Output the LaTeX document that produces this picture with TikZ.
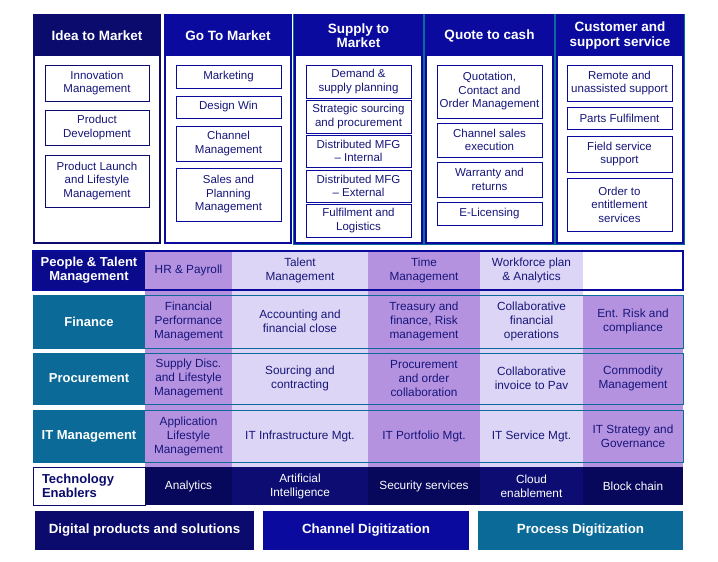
\documentclass[tikz,border=0pt]{standalone}
\usepackage{fontspec}
\setmainfont{Liberation Sans}
\definecolor{navy}{HTML}{0B0B6E}
\definecolor{blu}{HTML}{0A0A9E}
\definecolor{pblue}{HTML}{0A0A8C}
\definecolor{tealc}{HTML}{0B6A98}
\definecolor{purp}{HTML}{B592E0}
\definecolor{lav}{HTML}{DDD5F5}
\definecolor{tdark}{HTML}{07075C}
\definecolor{tmid}{HTML}{0C0C72}
\definecolor{txt}{HTML}{16167A}
% \bx[style]{x1}{y1}{x2}{y2}{name}{text}
\newcommand\bx[7][]{\node[#1, minimum width={(#4-#2)*1pt}, minimum height={(#5-#3)*1pt}] (#6) at ({(#2+#4)/2},{(#3+#5)/2}) {#7};}
\begin{document}
\begin{tikzpicture}[x=1pt,y=-1pt,
  every node/.style={inner sep=0pt, outer sep=0pt, align=center},
  colframe/.style={draw=#1, line width=1.6pt},
  colhead/.style={fill=#1, text=white, font=\fontsize{13.5}{14.5}\selectfont\bfseries},
  ibox/.style={draw=#1, fill=white, line width=0.8pt, text=txt, font=\fontsize{11.5}{13.5}\selectfont},
  cell/.style={text=txt, font=\fontsize{11.8}{14}\selectfont},
  tcell/.style={text=white, font=\fontsize{11.8}{14}\selectfont},
  rowlab/.style={text=white, font=\fontsize{13}{14}\selectfont\bfseries},
  bar/.style={fill=#1, text=white, font=\fontsize{13.3}{14}\selectfont\bfseries},
]
\useasboundingbox[fill=white] (0,0) rectangle (718,562);

% ---------- top columns ----------
\bx[colframe=navy]{34}{15}{160}{243}{col1}{}
\bx[colhead=navy]{34}{15}{160}{56}{h1}{Idea to Market}
\bx[colframe=blu]{165}{15}{291}{243}{col2}{}
\bx[colhead=blu]{165}{15}{291}{56}{h2}{Go To Market}
\draw[tealc, line width=0.8pt] (293.8,14) rectangle (423.2,244);
\draw[tealc, line width=0.8pt] (424.8,14) rectangle (554.2,244);
\draw[tealc, line width=0.8pt] (555.8,14) rectangle (684.2,244);
\bx[colframe=blu]{295}{15}{422}{243}{col3}{}
\bx[colframe=blu]{426}{15}{553}{243}{col4}{}
\bx[colframe=blu]{557}{15}{683}{243}{col5}{}
\bx[colhead=blu]{295}{15}{422}{56}{h3}{Supply to\\Market}
\bx[colhead=blu]{426}{15}{553}{56}{h4}{Quote to cash}
\bx[colhead=blu]{557}{15}{683}{56}{h5}{Customer and\\support service}

% column 1
\bx[ibox=navy]{45}{65}{149}{101}{a1}{Innovation\\Management}
\bx[ibox=navy]{45}{110}{149}{145}{a2}{Product\\Development}
\bx[ibox=navy]{45}{155}{149}{207}{a3}{Product Launch\\and Lifestyle\\Management}
% column 2
\bx[ibox=blu]{176}{65}{281}{88}{b1}{Marketing}
\bx[ibox=blu]{176}{96}{281}{118}{b2}{Design Win}
\bx[ibox=blu]{176}{126}{281}{161}{b3}{Channel\\Management}
\bx[ibox=blu]{176}{168}{281}{221}{b4}{Sales and\\Planning\\Management}
% column 3
\bx[ibox=blu]{306}{65}{411}{98}{c1}{Demand \&\\supply planning}
\bx[ibox=blu]{306}{100}{411}{133}{c2}{Strategic sourcing\\and procurement}
\bx[ibox=blu]{306}{135}{411}{167}{c3}{Distributed MFG\\-- Internal}
\bx[ibox=blu]{306}{170}{411}{202}{c4}{Distributed MFG\\-- External}
\bx[ibox=blu]{306}{204}{411}{237}{c5}{Fulfilment and\\Logistics}
% column 4
\bx[ibox=blu]{437}{65}{542}{118}{d1}{Quotation,\\Contact and\\Order Management}
\bx[ibox=blu]{437}{123}{542}{157}{d2}{Channel sales\\execution}
\bx[ibox=blu]{437}{162}{542}{197}{d3}{Warranty and\\returns}
\bx[ibox=blu]{437}{202}{542}{225}{d4}{E-Licensing}
% column 5
\bx[ibox=blu]{567}{65}{672}{101}{e1}{Remote and\\unassisted support}
\bx[ibox=blu]{567}{107}{672}{129}{e2}{Parts Fulfilment}
\bx[ibox=blu]{567}{136}{672}{172}{e3}{Field service\\support}
\bx[ibox=blu]{567}{178}{672}{231}{e4}{Order to\\entitlement\\services}

% ---------- function bands: column fills ----------
\fill[purp] (145,251) rectangle (232,467);
\fill[lav]  (232,251) rectangle (368,467);
\fill[purp] (368,251) rectangle (480,467);
\fill[lav]  (480,251) rectangle (583,467);
\fill[purp] (583,295) rectangle (683,467);

% row label cells
\bx[rowlab, fill=pblue]{33}{251}{145}{290}{lp}{People \& Talent\\Management}
\bx[rowlab, fill=tealc]{33}{295}{145}{348}{lf}{Finance}
\bx[rowlab, fill=tealc]{33}{353}{145}{404}{lpr}{Procurement}
\bx[rowlab, fill=tealc]{33}{410}{145}{462}{lit}{IT Management}

% row borders
\draw[tealc, line width=0.8pt] (33,295) rectangle (683,348);
\draw[tealc, line width=0.8pt] (33,353) rectangle (683,404);
\draw[tealc, line width=0.8pt] (33,410) rectangle (683,462);
\draw[blu, line width=1.8pt] (33,251) rectangle (683,290);

% cell texts
\node[cell] (p1) at (188.5,270.5) {HR \& Payroll};
\node[cell] (p2) at (300,270.5) {Talent\\Management};
\node[cell] (p3) at (424,270.5) {Time\\Management};
\node[cell] (p4) at (531.5,270.5) {Workforce plan\\\& Analytics};

\node[cell] (f1) at (188.5,321.5) {Financial\\Performance\\Management};
\node[cell] (f2) at (300,321.5) {Accounting and\\financial close};
\node[cell] (f3) at (424,321.5) {Treasury and\\finance, Risk\\management};
\node[cell] (f4) at (531.5,321.5) {Collaborative\\financial\\operations};
\node[cell] (f5) at (633,321.5) {Ent. Risk and\\compliance};

\node[cell] (r1) at (188.5,378.5) {Supply Disc.\\and Lifestyle\\Management};
\node[cell] (r2) at (300,378.5) {Sourcing and\\contracting};
\node[cell] (r3) at (424,378.5) {Procurement\\and order\\collaboration};
\node[cell] (r4) at (531.5,378.5) {Collaborative\\invoice to Pav};
\node[cell] (r5) at (633,378.5) {Commodity\\Management};

\node[cell] (i1) at (188.5,436) {Application\\Lifestyle\\Management};
\node[cell] (i2) at (300,436) {IT Infrastructure Mgt.};
\node[cell] (i3) at (424,436) {IT Portfolio Mgt.};
\node[cell] (i4) at (531.5,436) {IT Service Mgt.};
\node[cell] (i5) at (633,436) {IT Strategy and\\Governance};

% technology enablers
\bx[draw=navy, line width=1pt, fill=white]{33}{467}{145}{505}{lt}{}
\node[anchor=west, align=left, text=navy, font=\fontsize{13}{13.5}\selectfont\bfseries] (ltt) at (42,486) {Technology\\Enablers};
\bx[tcell, fill=tdark]{145}{467}{232}{505}{t1}{Analytics}
\bx[tcell, fill=tmid]{232}{467}{368}{505}{t2}{Artificial\\Intelligence}
\bx[tcell, fill=tdark]{368}{467}{480}{505}{t3}{Security services}
\bx[tcell, fill=tmid]{480}{467}{583}{505}{t4}{Cloud\\enablement}
\bx[tcell, fill=tdark]{583}{467}{683}{505}{t5}{Block chain}

% bottom bars
\bx[bar=navy]{35}{511}{254}{550}{g1}{Digital products and solutions}
\bx[bar=blu]{263}{511}{469}{550}{g2}{Channel Digitization}
\bx[bar=tealc]{478}{511}{683}{550}{g3}{Process Digitization}
\end{tikzpicture}
\end{document}
